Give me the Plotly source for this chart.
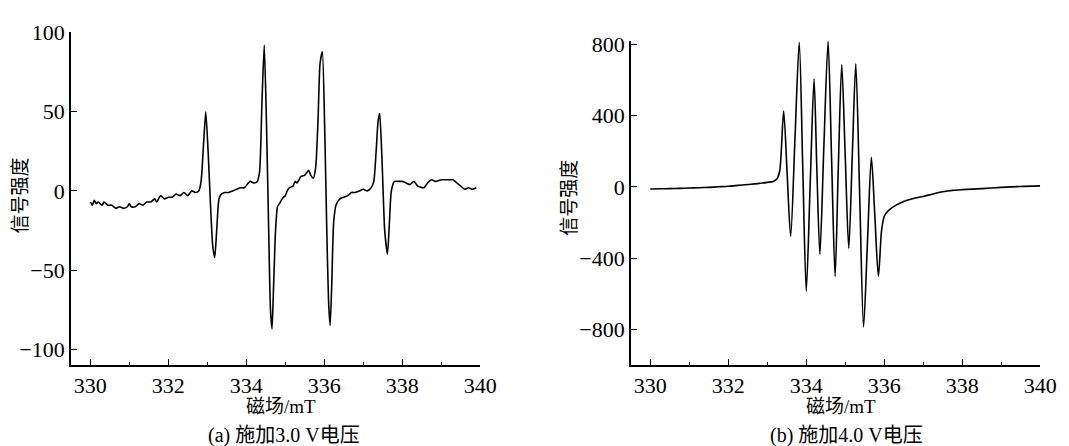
import plotly.graph_objects as go

# ---- Panel (a): 3.0 V ----
field_a = [330.00, 330.05, 330.10, 330.15, 330.20, 330.30, 330.35, 330.45, 330.55, 330.65,
           330.75, 330.85, 330.95, 331.00, 331.05, 331.15, 331.25, 331.35, 331.45, 331.55,
           331.65, 331.70, 331.80, 331.90, 332.00, 332.10, 332.20, 332.30, 332.40, 332.50,
           332.60, 332.70, 332.78, 332.84, 332.90, 332.96, 333.02, 333.08, 333.14, 333.19,
           333.24, 333.30, 333.36, 333.45, 333.55, 333.65, 333.75, 333.85, 333.95, 334.05,
           334.10, 334.20, 334.28, 334.34, 334.40, 334.46, 334.52, 334.57, 334.62, 334.66,
           334.70, 334.75, 334.80, 334.85, 334.95, 335.00, 335.05, 335.10, 335.20, 335.25,
           335.30, 335.40, 335.50, 335.60, 335.65, 335.72, 335.78, 335.84, 335.89, 335.95,
           336.01, 336.06, 336.11, 336.15, 336.19, 336.24, 336.30, 336.40, 336.50, 336.60,
           336.70, 336.80, 336.90, 337.00, 337.10, 337.20, 337.27, 337.33, 337.38, 337.42,
           337.48, 337.55, 337.62, 337.67, 337.72, 337.80, 337.90, 338.00, 338.10, 338.20,
           338.30, 338.40, 338.55, 338.65, 338.75, 338.85, 339.00, 339.15, 339.30, 339.40,
           339.50, 339.60, 339.70, 339.80, 339.90]
signal_a = [-7, -9, -6, -8, -7, -9, -7, -9, -9, -11,
            -10, -11, -10, -8, -10, -10, -8, -9, -7, -7,
            -5, -7, -3, -5, -4, -4, -2, -3, -1, -3,
            0, -1, 0, 6, 28, 50, 25, -8, -35, -42,
            -25, -5, -2, -1, -1, 0, 1, 2, 2, 5,
            6, 5, 6, 12, 55, 92, 40, -20, -75, -87,
            -60, -25, -10, -8, -4, -3, 0, 2, 3, 6,
            5, 9, 10, 13, 10, 8, 15, 45, 80, 88,
            40, -20, -70, -85, -60, -20, -9, -5, -4, -3,
            -1, -1, 0, 1, 0, 2, 6, 25, 44, 49,
            20, -25, -40, -20, 0, 6, 6, 6, 5, 4,
            6, 3, 2, 5, 7, 6, 7, 7, 7, 5,
            3, 1, 2, 1, 2]

# ---- Panel (b): 4.0 V ----
field_b = [330.00, 330.25, 330.50, 330.75, 331.00, 331.25, 331.50, 331.75, 332.00, 332.25,
           332.50, 332.75, 333.00, 333.15, 333.25, 333.32, 333.42, 333.51, 333.60, 333.71,
           333.82, 333.91, 334.00, 334.10, 334.20, 334.27, 334.35, 334.45, 334.56, 334.65,
           334.74, 334.82, 334.91, 335.00, 335.09, 335.18, 335.27, 335.37, 335.47, 335.57,
           335.67, 335.76, 335.85, 335.93, 336.00, 336.10, 336.25, 336.50, 336.75, 337.00,
           337.25, 337.50, 337.75, 338.00, 338.50, 339.00, 339.50, 340.00]
signal_b = [-12, -11, -10, -9, -7, -5, -3, 0, 3, 8,
            13, 18, 25, 30, 45, 90, 425, 73, -278, 266,
            810, 112, -585, 10, 605, 113, -378, 218, 815, 156,
            -502, 91, 685, 170, -345, 172, 690, -47, -785, -310,
            165, -168, -502, -250, -165, -135, -110, -82, -65, -54,
            -40, -28, -20, -16, -10, -3, 2, 5]

x_ticks = [330, 332, 334, 336, 338, 340]
y_ticks_a = [-100, -50, 0, 50, 100]
y_ticks_b = [-800, -400, 0, 400, 800]

y_title = "信号强度"
x_title = "磁场/mT"
caption_a = "(a) 施加3.0 V电压"
caption_b = "(b) 施加4.0 V电压"

FONT = "Liberation Serif, Times New Roman, Noto Sans CJK SC, serif"
W, H = 1069, 446
TICK = 22

fig = go.Figure()
fig.add_trace(go.Scatter(x=field_a, y=signal_a, mode="lines", xaxis="x", yaxis="y",
                         line=dict(color="black", width=1.6, shape="spline", smoothing=0.6),
                         showlegend=False, hoverinfo="skip"))
fig.add_trace(go.Scatter(x=field_b, y=signal_b, mode="lines", xaxis="x2", yaxis="y2",
                         line=dict(color="black", width=1.6, shape="spline", smoothing=0.8),
                         showlegend=False, hoverinfo="skip"))

def xaxis(domain, anchor):
    return dict(domain=domain, anchor=anchor, range=[329.5, 340], tickvals=x_ticks,
                ticks="inside", ticklen=6, tickwidth=1.3, tickcolor="black",
                minor=dict(tickvals=[331, 333, 335, 337, 339], ticks="inside", ticklen=3,
                           tickwidth=1.3, tickcolor="black"),
                showline=True, linecolor="black", linewidth=1.5, showgrid=False,
                zeroline=False, tickfont=dict(family=FONT, size=TICK, color="black"))

def yaxis(domain, anchor, rng, tv):
    return dict(domain=domain, anchor=anchor, range=rng, tickvals=tv,
                ticks="inside", ticklen=6, tickwidth=1.3, tickcolor="black",
                showline=True, linecolor="black", linewidth=1.5, showgrid=False,
                zeroline=False, tickfont=dict(family=FONT, size=TICK, color="black"))

fig.update_layout(
    width=W, height=H, margin=dict(l=0, r=0, t=0, b=0),
    paper_bgcolor="white", plot_bgcolor="white",
    xaxis=xaxis([72 / W, 488 / W], "y"),
    yaxis=yaxis([1 - 363 / H, 1 - 21 / H], "x", [-110, 100], y_ticks_a),
    xaxis2=xaxis([641 / W, 1057 / W], "y2"),
    yaxis2=yaxis([1 - 363 / H, 1 - 29.3 / H], "x2", [-1000, 820], y_ticks_b),
)

def note(px, py, text, angle=0, size=19):
    fig.add_annotation(x=px / W, y=1 - py / H, xref="paper", yref="paper", text=text,
                       textangle=angle, showarrow=False,
                       font=dict(family=FONT, size=size, color="black"),
                       xanchor="center", yanchor="middle")

note(21, 189, y_title, -90)
note(579, 191, y_title, -90)
note(286, 405, x_title)
note(855, 405, x_title)
note(289, 435, caption_a, size=20)
note(860, 435, caption_b, size=20)

fig.write_html("out.html")
